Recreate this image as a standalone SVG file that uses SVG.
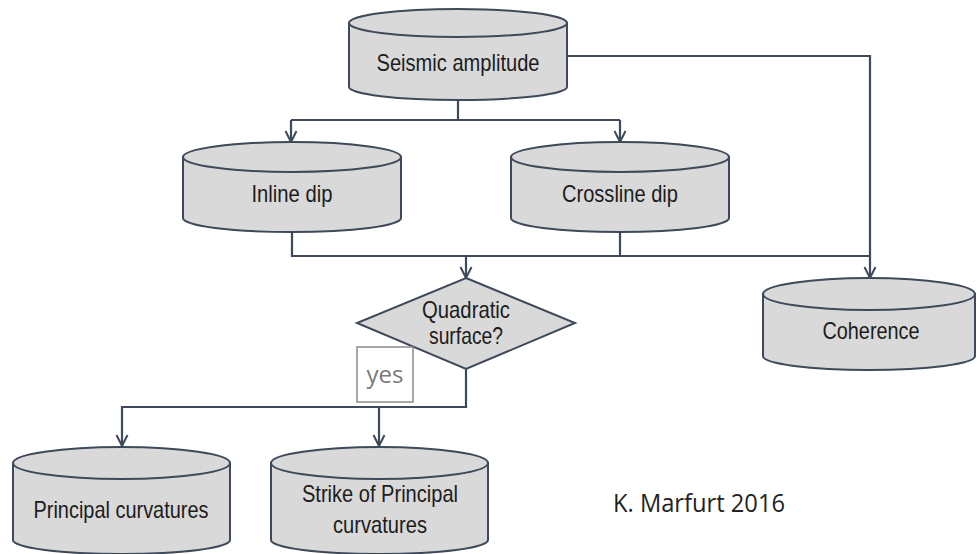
<svg xmlns="http://www.w3.org/2000/svg" width="977" height="554" viewBox="0 0 977 554">
<defs>
<style>
.cyl{fill:#d9d9d9;stroke:#3e4a5a;stroke-width:2}
.lbl{font-family:"Liberation Sans",Arial,sans-serif;font-size:24px;fill:#1c1c1c;text-anchor:middle}
.con{fill:none;stroke:#3e4a5a;stroke-width:2.2}
</style>
<marker id="arr" markerUnits="userSpaceOnUse" markerWidth="14" markerHeight="14" refX="12" refY="7" orient="auto" viewBox="0 0 14 14">
<polyline points="1,1.5 12,7 1,12.5" fill="none" stroke="#3e4a5a" stroke-width="2"/>
</marker>
</defs>
<rect width="977" height="554" fill="#ffffff"/>
<g id="connectors">
<path class="con" d="M458,100 V120 M291,120 H620"/>
<path class="con" d="M291,120 V142" marker-end="url(#arr)"/>
<path class="con" d="M620,120 V142" marker-end="url(#arr)"/>
<path class="con" d="M567,56 H870 V278" marker-end="url(#arr)"/>
<path class="con" d="M292,232 V256 H870 M620,232 V256"/>
<path class="con" d="M466,256 V278" marker-end="url(#arr)"/>
<path class="con" d="M466,369 V407 H122 V446" marker-end="url(#arr)"/>
<path class="con" d="M379,407 V446" marker-end="url(#arr)"/>
</g>
<g id="seismic">
<path class="cyl" d="M349,23 L349,87 A109,13 0 0 0 567,87 L567,23 Z"/>
<ellipse class="cyl" cx="458" cy="23" rx="109" ry="14"/>
<text class="lbl" x="458" y="71" textLength="163" lengthAdjust="spacingAndGlyphs">Seismic amplitude</text>
</g>
<g id="inline">
<path class="cyl" d="M183,157 L183,218 A109,14 0 0 0 401,218 L401,157 Z"/>
<ellipse class="cyl" cx="292" cy="157" rx="109" ry="15"/>
<text class="lbl" x="292" y="202" textLength="81" lengthAdjust="spacingAndGlyphs">Inline dip</text>
</g>
<g id="crossline">
<path class="cyl" d="M511,157 L511,218 A109,14 0 0 0 729,218 L729,157 Z"/>
<ellipse class="cyl" cx="620" cy="157" rx="109" ry="15"/>
<text class="lbl" x="620" y="202" textLength="116" lengthAdjust="spacingAndGlyphs">Crossline dip</text>
</g>
<g id="coherence">
<path class="cyl" d="M763,294 L763,356 A106,14 0 0 0 975,356 L975,294 Z"/>
<ellipse class="cyl" cx="869" cy="294" rx="106" ry="16"/>
<text class="lbl" x="871" y="339" textLength="97" lengthAdjust="spacingAndGlyphs">Coherence</text>
</g>
<g id="quadratic">
<polygon class="cyl" points="466,278 575,323 466,369 357,323"/>
<text class="lbl" x="466" y="318" textLength="88" lengthAdjust="spacingAndGlyphs">Quadratic</text>
<text class="lbl" x="466" y="344" textLength="74" lengthAdjust="spacingAndGlyphs">surface?</text>
</g>
<g id="yes">
<rect x="357" y="347" width="56" height="55" fill="#ffffff" stroke="#8a8a8a" stroke-width="1.5"/>
<text x="385" y="383" font-family="'Open Sans','Liberation Sans',sans-serif" font-size="24" fill="#7a7a7a" text-anchor="middle" textLength="37" lengthAdjust="spacingAndGlyphs">yes</text>
</g>
<g id="principal">
<path class="cyl" d="M13,463 L13,540 A108.5,14 0 0 0 230,540 L230,463 Z"/>
<ellipse class="cyl" cx="121.5" cy="463" rx="108.5" ry="16"/>
<text class="lbl" x="121" y="518" textLength="175" lengthAdjust="spacingAndGlyphs">Principal curvatures</text>
</g>
<g id="strike">
<path class="cyl" d="M271,463 L271,540 A108.5,14 0 0 0 488,540 L488,463 Z"/>
<ellipse class="cyl" cx="379.5" cy="463" rx="108.5" ry="16"/>
<text class="lbl" x="380" y="502" textLength="156" lengthAdjust="spacingAndGlyphs">Strike of Principal</text>
<text class="lbl" x="380" y="533" textLength="94" lengthAdjust="spacingAndGlyphs">curvatures</text>
</g>
<text x="613" y="512" font-family="'Open Sans','Liberation Sans',sans-serif" font-size="26" fill="#222222" textLength="172" lengthAdjust="spacingAndGlyphs">K. Marfurt 2016</text>
</svg>
